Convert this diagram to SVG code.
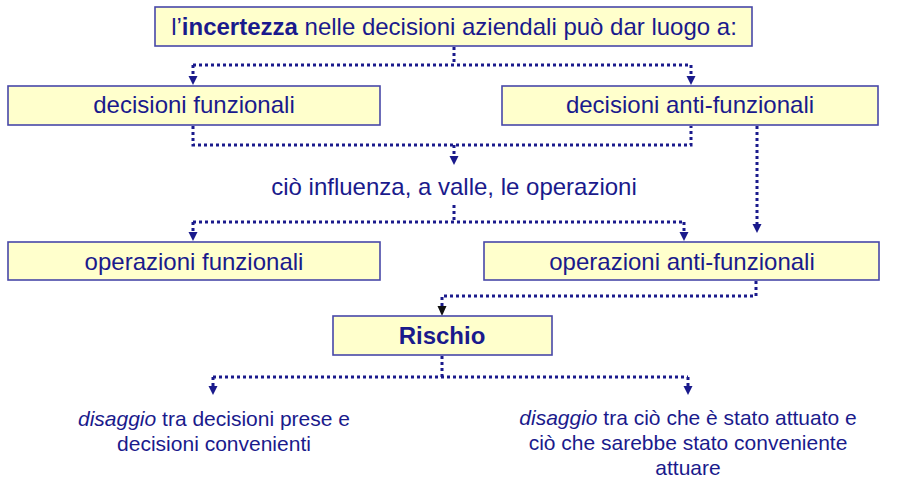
<svg xmlns="http://www.w3.org/2000/svg" width="897" height="500" viewBox="0 0 897 500">
<style>
.box{fill:#ffffcc;stroke:#4848a8;stroke-width:1.6}
.t{font-family:"Liberation Sans",Arial,sans-serif;font-size:24px;fill:#1a1a8c;text-anchor:middle}
.s{font-family:"Liberation Sans",Arial,sans-serif;font-size:21px;fill:#1a1a8c;text-anchor:middle}
.c{fill:none;stroke:#1a1a8c;stroke-width:3;stroke-dasharray:3 3}
.h{fill:#1a1a8c}
</style>
<rect width="897" height="500" fill="#fff"/>
<g id="connectors">
<path class="c" d="M454,47 V65 M193,65 H691"/>
<path class="c" d="M193,65 V76"/><path class="h" d="M188.5,76 h9 l-4.5,9 z"/>
<path class="c" d="M691,65 V76"/><path class="h" d="M686.5,76 h9 l-4.5,9 z"/>
<path class="c" d="M193,126 V145 H691 V126"/>
<path class="c" d="M454,145 V156"/><path class="h" d="M449.5,156 h9 l-4.5,9 z"/>
<path class="c" d="M454,205 V222 M193,222 H684"/>
<path class="c" d="M193,222 V232"/><path class="h" d="M188.5,232 h9 l-4.5,9 z"/>
<path class="c" d="M684,222 V232"/><path class="h" d="M679.5,232 h9 l-4.5,9 z"/>
<path class="c" d="M757,126 V224"/><path class="h" d="M752.5,224 h9 l-4.5,9 z"/>
<path class="c" d="M756,281 V296 H442 V306"/><path d="M437.5,306 h9 l-4.5,10 z" fill="#111"/>
<path class="c" d="M442,356 V377 M213,377 H688"/>
<path class="c" d="M213,377 V386"/><path class="h" d="M208.5,386 h9 l-4.5,9 z"/>
<path class="c" d="M688,377 V386"/><path class="h" d="M683.5,386 h9 l-4.5,9 z"/>
</g>
<g id="n_top">
<rect class="box" x="155" y="7" width="597" height="39"/>
<text class="t" x="454" y="35">l’<tspan font-weight="bold">incertezza</tspan> nelle decisioni aziendali può dar luogo a:</text>
</g>
<g id="n_decfun">
<rect class="box" x="8" y="86" width="372" height="39"/>
<text class="t" x="194" y="113">decisioni funzionali</text>
</g>
<g id="n_decanti">
<rect class="box" x="502" y="86" width="376" height="39"/>
<text class="t" x="690" y="113">decisioni anti-funzionali</text>
</g>
<g id="n_influenza">
<text class="t" x="454" y="195">ciò influenza, a valle, le operazioni</text>
</g>
<g id="n_opfun">
<rect class="box" x="8" y="242" width="372" height="38"/>
<text class="t" x="194" y="270">operazioni funzionali</text>
</g>
<g id="n_opanti">
<rect class="box" x="484" y="242" width="395" height="38"/>
<text class="t" x="682" y="270">operazioni anti-funzionali</text>
</g>
<g id="n_rischio">
<rect class="box" x="333" y="316" width="219" height="39"/>
<text class="t" x="442" y="344" font-weight="bold">Rischio</text>
</g>
<g id="n_dis1">
<text class="s" x="214" y="426"><tspan font-style="italic">disaggio</tspan> tra decisioni prese e</text>
<text class="s" x="214" y="451">decisioni convenienti</text>
</g>
<g id="n_dis2">
<text class="s" x="688" y="425"><tspan font-style="italic">disaggio</tspan> tra ciò che è stato attuato e</text>
<text class="s" x="688" y="450">ciò che sarebbe stato conveniente</text>
<text class="s" x="688" y="475">attuare</text>
</g>
</svg>
